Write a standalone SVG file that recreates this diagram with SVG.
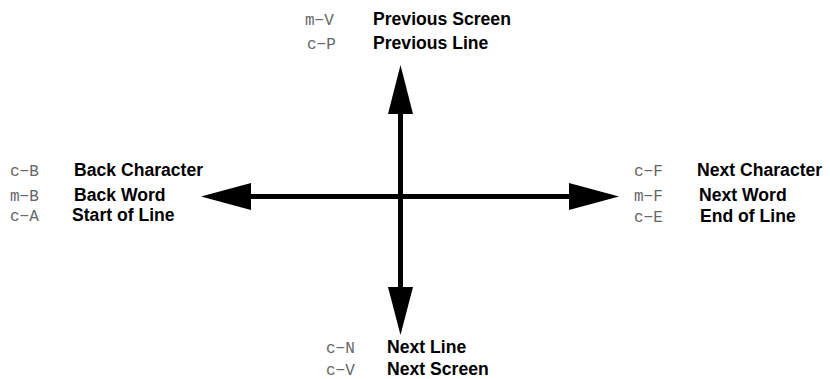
<svg xmlns="http://www.w3.org/2000/svg" width="830" height="379" viewBox="0 0 830 379">
<style>
.k{font-family:"Liberation Mono","Courier New",monospace;font-size:16px;fill:#666}
.l{font-family:"Liberation Sans",Arial,Helvetica,sans-serif;font-size:17.6px;font-weight:bold;fill:#000}
.ln{stroke:#000;stroke-width:5;fill:none}
.ah{fill:#000}
</style>
<rect width="830" height="379" fill="#fff"/>
<g id="connectors">
<line class="ln" x1="400.5" y1="112" x2="400.5" y2="289"/>
<line class="ln" x1="248" y1="196.5" x2="572" y2="196.5"/>
<polygon class="ah" points="400.5,65 388,114 413,114"/>
<polygon class="ah" points="400.5,335 388,287 413,287"/>
<polygon class="ah" points="201,196.5 251,183 251,210"/>
<polygon class="ah" points="619,196.5 569,183 569,210"/>
</g>
<g id="node-up">
<text class="k" x="305" y="25">m−V</text>
<text class="l" x="373" y="25">Previous Screen</text>
<text class="k" x="307" y="49">c−P</text>
<text class="l" x="373" y="49">Previous Line</text>
</g>
<g id="node-left">
<text class="k" x="10" y="176">c−B</text>
<text class="l" x="74" y="176">Back Character</text>
<text class="k" x="10" y="201">m−B</text>
<text class="l" x="74" y="201">Back Word</text>
<text class="k" x="10" y="221">c−A</text>
<text class="l" x="72" y="221">Start of Line</text>
</g>
<g id="node-right">
<text class="k" x="634" y="176">c−F</text>
<text class="l" x="697" y="176">Next Character</text>
<text class="k" x="634" y="201">m−F</text>
<text class="l" x="699" y="201">Next Word</text>
<text class="k" x="634" y="222">c−E</text>
<text class="l" x="700" y="222">End of Line</text>
</g>
<g id="node-down">
<text class="k" x="326" y="353">c−N</text>
<text class="l" x="387" y="353">Next Line</text>
<text class="k" x="326" y="375">c−V</text>
<text class="l" x="387" y="375">Next Screen</text>
</g>
</svg>
